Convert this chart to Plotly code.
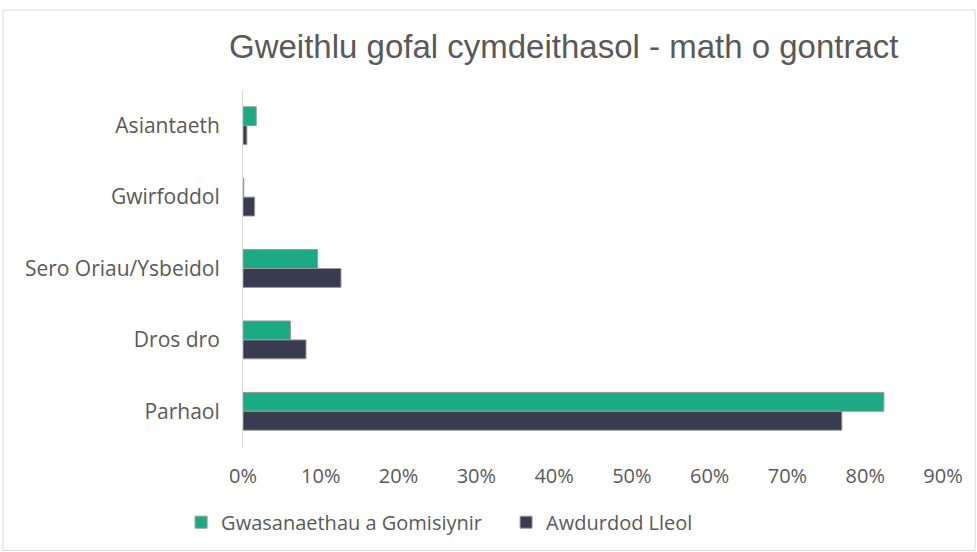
import plotly.graph_objects as go

categories = ["Asiantaeth", "Gwirfoddol", "Sero Oriau/Ysbeidol", "Dros dro", "Parhaol"]
gwasanaethau = [0.017, 0.001, 0.096, 0.061, 0.824]
awdurdod = [0.005, 0.015, 0.126, 0.081, 0.770]
series_names = ["Gwasanaethau a Gomisiynir", "Awdurdod Lleol"]
tick_vals = [0, 0.1, 0.2, 0.3, 0.4, 0.5, 0.6, 0.7, 0.8, 0.9]
tick_text = ["0%", "10%", "20%", "30%", "40%", "50%", "60%", "70%", "80%", "90%"]

fig = go.Figure()
fig.add_trace(go.Bar(y=categories, x=gwasanaethau, orientation="h", name=series_names[0],
                     marker=dict(color="#1BAA84", line=dict(color="#9a9a9a", width=1))))
fig.add_trace(go.Bar(y=categories, x=awdurdod, orientation="h", name=series_names[1],
                     marker=dict(color="#393B51", line=dict(color="#9a9a9a", width=1))))

fig.update_layout(
    width=977, height=552,
    margin=dict(l=243, r=34, t=90, b=105),
    paper_bgcolor="white", plot_bgcolor="white",
    barmode="group", bargap=0.47, bargroupgap=0,
    title=dict(text="Gweithlu gofal cymdeithasol - math o gontract",
               font=dict(family="Liberation Sans, Arial", size=33, color="#595959"),
               x=0.577, xanchor="center", xref="container", y=0.915, yanchor="middle", yref="container"),
    xaxis=dict(range=[0, 0.9], tickvals=tick_vals, ticktext=tick_text, showgrid=False,
               zeroline=False, showline=False, ticks="", ticklabelstandoff=15,
               tickfont=dict(family="Open Sans, Noto Sans", size=20, color="#595959")),
    yaxis=dict(autorange="reversed", showgrid=False, showline=True, linecolor="#d9d9d9", linewidth=1,
               ticks="", ticklabelstandoff=18,
               tickfont=dict(family="Open Sans, Noto Sans", size=21, color="#595959")),
    legend=dict(orientation="h", x=0.518, xanchor="center", xref="container", y=0.054, yanchor="middle",
                yref="container", font=dict(family="Open Sans, Noto Sans", size=20, color="#595959"),
                entrywidth=280, entrywidthmode="pixels", traceorder="normal"),
    shapes=[dict(type="rect", xref="paper", yref="paper", x0=-0.343, x1=1.046, y0=-0.29, y1=1.224,
                 line=dict(color="#d9d9d9", width=1), fillcolor="rgba(0,0,0,0)")],
)

fig.write_html("out.html", config={"displayModeBar": False},
               post_script="document.body.style.margin='0';")
